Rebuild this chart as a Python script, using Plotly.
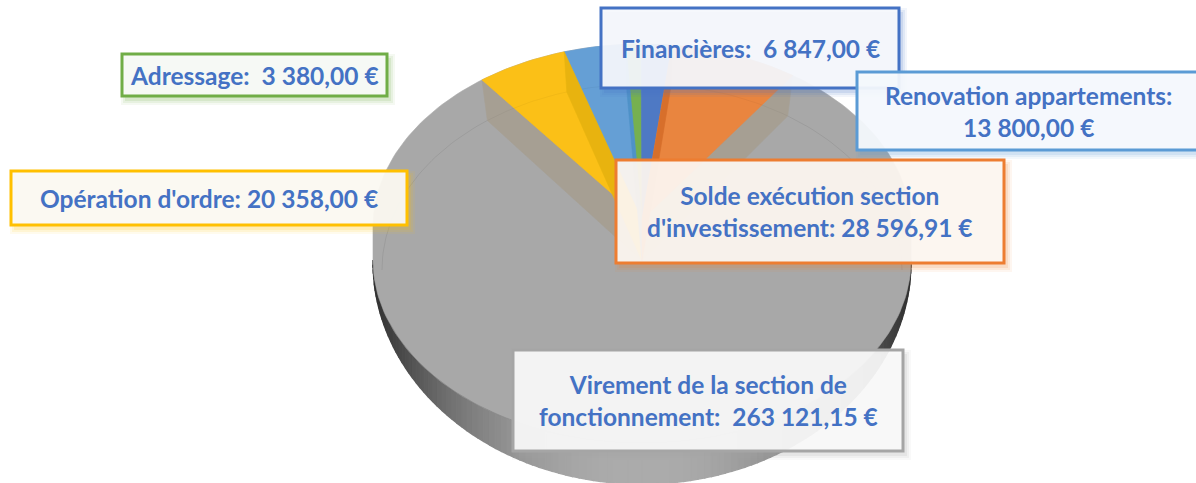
import math
import plotly.graph_objects as go

# ---- data (clockwise from the large grey slice) ----
categories = ["Virement de la section de fonctionnement", "Opération d'ordre", "Renovation appartements",
              "Adressage", "Financières", "Solde exécution section d'investissement"]
values = [263121.15, 20358.00, 13800.00, 3380.00, 6847.00, 28596.91]
labels = ["Virement de la section de<br>fonctionnement:\u00a0\u00a0263\u00a0121,15\u00a0€",
          "Opération d'ordre: 20\u00a0358,00\u00a0€",
          "Renovation appartements:<br>13\u00a0800,00\u00a0€",
          "Adressage:\u00a0\u00a03\u00a0380,00\u00a0€",
          "Financières:\u00a0\u00a06\u00a0847,00\u00a0€",
          "Solde exécution section<br>d'investissement: 28\u00a0596,91\u00a0€"]
colors = ["#A8A8A8", "#FBC017", "#659FD5", "#76B050", "#4E79C4", "#E9853F"]
wall_colors = ["#A69F93", "#E8B30F", "#4F92C8", None, None, "#D76F2B"]
borders = ["#A5A5A5", "#FFC000", "#5B9BD5", "#70AD47", "#4472C4", "#ED7D31"]
tints = ["rgba(250,250,250,0.92)", "rgba(251,250,246,0.93)", "rgba(247,250,253,0.93)",
         "rgba(248,250,247,0.95)", "rgba(247,249,252,0.93)", "rgba(252,247,243,0.93)"]
# label boxes: left, top, right, bottom
boxes = [(513, 350, 903, 451), (11, 171, 407, 225), (857, 72, 1200, 150),
         (122, 54, 387, 96), (601, 8, 899, 88), (616, 160, 1004, 263)]
text_colour = "#4472C4"

# ---- pie projection ----
CX, RX, APEX_Y, LOW_APEX_Y = 642, 269, 220, 261
BACK_C, BACK_R = 227, 183
FRONT_C, FRONT_R = 260, 183
OUT_C, OUT_R = 262, 222
IN_C, IN_R, IN_RX = 270, 186, 260
START, SQUEEZE = -36.5, 0.903


def rim(t):
    r = math.radians(t)
    return CX + RX * math.sin(r), BACK_C - BACK_R * math.cos(r)


def inner(t):
    r = math.radians(t)
    return CX + IN_RX * math.sin(r), IN_C - IN_R * math.cos(r)


def span(a, b, n=40):
    return [a + (b - a) * i / n for i in range(n + 1)]


def poly(fig, pts, colour, lw=0.6):
    fig.add_trace(go.Scatter(x=[p[0] for p in pts] + [pts[0][0]], y=[p[1] for p in pts] + [pts[0][1]],
                             mode="lines", fill="toself", fillcolor=colour,
                             line=dict(color=colour, width=lw), hoverinfo="skip", showlegend=False))


def line(fig, pts, colour, width=1):
    fig.add_trace(go.Scatter(x=[p[0] for p in pts], y=[p[1] for p in pts], mode="lines",
                             line=dict(color=colour, width=width), hoverinfo="skip", showlegend=False))


fig = go.Figure()
total = sum(values)
# boundaries of each slice, in projected angle
bounds = [START]
for v in values[1:]:
    bounds.append(bounds[-1] + v / total * 360 * SQUEEZE)
# bounds[0]..bounds[1] = yellow ... bounds[4]..bounds[5] = orange

# side wall with shading
N = 120
for i in range(N):
    a = math.radians(-90 + 180 * i / N)
    b = math.radians(-90 + 180 * (i + 1) / N)
    s = abs(math.sin((a + b) / 2))
    g = int(172 - 125 * s ** 2.2)
    q = [(CX + RX * math.sin(a), FRONT_C + FRONT_R * math.cos(a)),
         (CX + RX * math.sin(b), FRONT_C + FRONT_R * math.cos(b)),
         (CX + RX * math.sin(b), OUT_C + OUT_R * math.cos(b)),
         (CX + RX * math.sin(a), OUT_C + OUT_R * math.cos(a))]
    poly(fig, q, f"rgb({g},{g},{g})", 1.5)

# top face silhouette (grey slice)
face = [rim(t) for t in span(-90, 90, 120)]
face += [(CX + RX * math.sin(math.radians(t)), FRONT_C + FRONT_R * math.cos(math.radians(t))) for t in span(90, -90, 120)]
poly(fig, face, colors[0])
line(fig, [(CX + RX * math.sin(math.radians(t)), FRONT_C + FRONT_R * math.cos(math.radians(t))) for t in span(-70, 62, 80)],
     "rgba(70,70,70,0.25)", 0.8)

# faint far rim on the grey slice
line(fig, [inner(t) for t in span(-90, bounds[0], 40)], "rgba(0,0,0,0.07)", 1)
line(fig, [inner(t) for t in span(bounds[5], 90, 40)], "rgba(0,0,0,0.07)", 1)

APEX = (CX, APEX_Y)
LOW = (CX, LOW_APEX_Y)
# grey slice inner walls
for t in (bounds[0], bounds[5]):
    poly(fig, [rim(t), APEX, LOW, inner(t)], wall_colors[0])

# coloured slices
for i in range(1, 6):
    a, b = bounds[i - 1], bounds[i]
    poly(fig, [APEX] + [rim(t) for t in span(a, b, 20)], colors[i])
    line(fig, [inner(t) for t in span(a, b, 20)], "rgba(0,0,0,0.04)", 1)

# inner walls of coloured slices
for i, t in ((1, bounds[1]), (2, bounds[2]), (5, bounds[4])):
    poly(fig, [rim(t), APEX, LOW, inner(t)], wall_colors[i])

# boxes, shadows and labels
shapes = []
annotations = []
draw_order = [0, 1, 3, 4, 2, 5]
for i in draw_order:
    x0, y0, x1, y1 = boxes[i]
    for grow, alpha in ((4, 0.07), (2, 0.10), (0, 0.14)):
        shapes.append(dict(type="rect", layer="above", x0=x0 + 3 - grow, x1=x1 + 4 + grow,
                           y0=y0 + 4 - grow, y1=y1 + 5 + grow, line_width=0,
                           fillcolor=borders[i], opacity=alpha))
    shapes.append(dict(type="rect", layer="above", x0=x0, x1=x1, y0=y0, y1=y1,
                       fillcolor=tints[i], line=dict(color=borders[i], width=3)))
    annotations.append(dict(x=(x0 + x1) / 2, y=(y0 + y1) / 2, xref="x", yref="y", showarrow=False,
                            text=f"<b>{labels[i]}</b>", align="center",
                            font=dict(family="Lato", size=24.5, color=text_colour)))

fig.update_layout(width=1196, height=483, margin=dict(l=0, r=0, t=0, b=0),
                  paper_bgcolor="white", plot_bgcolor="white", showlegend=False,
                  xaxis=dict(range=[0, 1196], visible=False, fixedrange=True),
                  yaxis=dict(range=[483, 0], visible=False, fixedrange=True),
                  shapes=shapes, annotations=annotations)
fig.write_html("out.html", config={"displayModeBar": False},
               post_script="document.body.style.margin='0';document.body.style.overflow='hidden';")
